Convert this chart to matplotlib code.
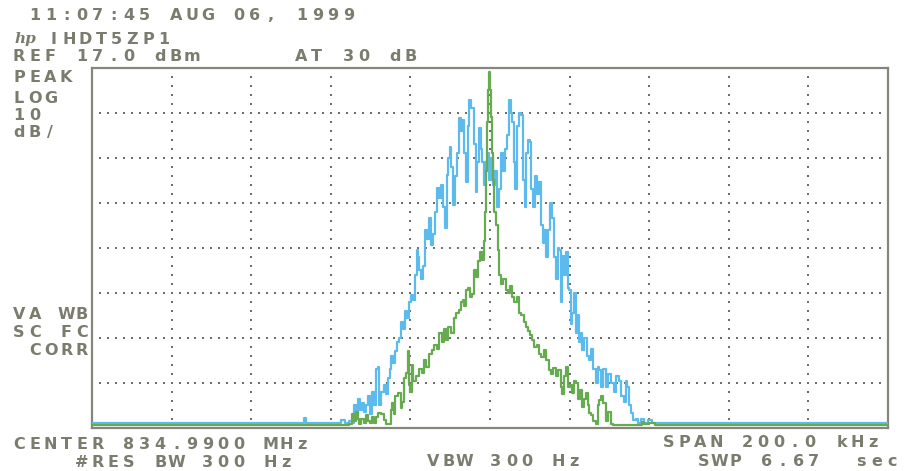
import matplotlib
matplotlib.use("Agg")
import matplotlib.pyplot as plt
import numpy as np

# spectrum trace, wide sweep (blue) - offset from center in kHz / level in dBm
blue_khz = [-100, -47, -46.5, -46, -38, -37, -36, -35, -34.5, -34,
            -33.5, -33, -32.5, -32, -31.5, -31, -30.5, -30, -29.5, -29,
            -28.5, -28, -27.6, -27, -26.5, -26, -25.5, -25, -24.5, -24,
            -23.5, -23, -22.5, -22, -21.5, -21, -20.5, -20, -19.5, -19,
            -18.5, -18.3, -18, -17.5, -17, -16.5, -16, -15.5, -15, -14.5,
            -14, -13.5, -13, -12.5, -12, -11.5, -11, -10.7, -10.2, -10,
            -9.5, -9, -8.5, -8, -7.5, -7, -6.8, -6.3, -5.8, -5.4,
            -5, -4.6, -4.3, -3.8, -3.3, -3, -2.5, -2.2, -1.8, -1.3,
            -1, -0.5, 0, 0.5, 1, 1.5, 2, 2.5, 3, 3.5,
            4, 4.5, 5, 5.4, 5.8, 6.2, 6.6, 7, 7.5, 8,
            8.5, 9, 9.3, 9.8, 10.1, 10.5, 11, 11.5, 12, 12.6,
            13, 13.5, 13.8, 14.3, 14.8, 15.3, 15.8, 16.3, 16.8, 17.3,
            17.6, 18, 18.3, 18.8, 19.3, 19.8, 20.1, 20.5, 20.9, 21.4,
            21.9, 22.3, 22.6, 23, 23.4, 24, 24.6, 25.1, 25.6, 26.2,
            26.9, 27.3, 27.6, 28.2, 28.8, 29.4, 30, 30.9, 31.5, 32,
            32.7, 33.3, 33.9, 34.3, 34.7, 35.2, 35.7, 36.3, 36.9, 37.5,
            38.4, 39, 40.2, 41, 100]
blue_dbm = [-62.0, -62.0, -60.8, -62.0, -62.0, -61.3, -61.8, -61.4, -61.8, -58,
            -60, -56.5, -59, -57.5, -59.5, -58, -56, -60, -55, -58,
            -50, -49.4, -58, -55, -53.5, -55.5, -52, -50, -47, -48.5,
            -46, -44, -43, -39.5, -41, -37, -38.5, -35, -33.5, -34.5,
            -29, -23.5, -25, -28, -30, -27, -19, -21, -16.3, -22.3,
            -20, -15, -9.7, -12, -9, -14, -18.6, -6.8, -3, -0.5,
            -5, -13.4, -7, -2, 5.9, 3, 5.5, -2, -8.3, 4,
            9.9, 8, 8.1, 0, -10.6, -4, 3.7, -1, -3.9, -9,
            -4, -2, -8, -3, -9, -6, -14, -10, -2, -6,
            -1, 2, 9.9, 7, 5, -4, -10, 4, 7, 6.6,
            -8, -14, -2, 1, 0.6, -10, -14, -7, -11, -8.3,
            -18, -22, -19, -25, -19, -13, -16.3, -25, -30, -23,
            -23.4, -35, -24.7, -29, -24, -32, -32.3, -40, -37.5, -33,
            -41.9, -38, -44, -42, -45.7, -43, -47, -47.9, -45.5, -50,
            -53, -49.5, -50.1, -54, -50, -53.9, -51, -53, -55, -51.5,
            -52.5, -56, -57.3, -52.5, -53.9, -58, -59.7, -61.3, -61.0, -61.8,
            -61.0, -61.8, -61.3, -61.9, -62.0]

# narrow sweep (green)
green_khz = [-100, -36, -35, -34.5, -34, -33.5, -33, -32.7, -32, -31.5,
             -31, -30.5, -30, -29.5, -29, -28.5, -27.6, -27, -26.5, -25.8,
             -25.1, -24.8, -24.4, -24, -23.5, -22.6, -22.2, -21.9, -21.4, -20.9,
             -20.5, -20.3, -19.8, -19.6, -19, -18.3, -17.5, -16.8, -16.3, -15.8,
             -15, -14.3, -13.7, -13, -12.5, -11.8, -11.3, -10.8, -10.2, -9.5,
             -8.8, -8.2, -7.5, -7, -6.8, -6.3, -5.8, -5.3, -4.8, -4.3,
             -3.8, -3.3, -2.8, -2.3, -1.8, -1.3, -1, -0.8, -0.6, -0.4,
             -0.2, 0, 0.2, 0.4, 0.6, 0.9, 1.3, 1.8, 2.2, 2.5,
             3, 3.5, 4.3, 4.8, 5.3, 5.8, 6.5, 7, 7.5, 8.2,
             8.7, 9.3, 9.8, 10.3, 10.8, 11.5, 12, 12.6, 13.2, 13.8,
             14.3, 15.1, 15.6, 16.2, 16.8, 17.6, 18, 18.3, 18.8, 19.3,
             19.8, 20.4, 20.9, 21.4, 21.9, 22.4, 22.9, 23.4, 23.9, 24.4,
             24.8, 25.1, 25.7, 26.2, 26.9, 27.3, 27.6, 28.2, 28.8, 29.4,
             30, 30.6, 31.2, 38, 38.5, 39, 41, 42, 100]
green_dbm = [-62.3, -62.3, -62.1, -60, -61.5, -59.5, -61, -62.1, -61, -62,
             -60.2, -61.5, -62, -60.5, -61.8, -60.5, -59.7, -60, -61.2, -62.1,
             -62.2, -59, -57.5, -60, -56, -55.2, -58.5, -57.3, -52, -50.7,
             -46, -53.5, -55, -49, -52.5, -51.5, -50, -50.8, -48, -49.4,
             -46.5, -45.7, -44.5, -45.5, -42, -43.8, -41, -43.4, -40.5, -41.8,
             -38.5, -37.5, -36.8, -35, -34.5, -36, -32.3, -31.8, -34, -33.2,
             -28, -29.4, -26, -24, -25.7, -21.5, -15, -6, 5, 12,
             16.1, 15.5, 12, 6, -2, -8, -15, -18, -23.5, -29,
             -31, -30, -32.3, -33, -31.5, -33.9, -35, -34, -37.5, -38,
             -39.5, -40.5, -41.5, -42.3, -43.4, -45, -44.5, -46.5, -47.2, -45.7,
             -48, -50.1, -51, -49.7, -51.5, -50.1, -53.9, -55.5, -51.5, -49.4,
             -54, -53.5, -55.2, -52.5, -53, -56.5, -54.5, -58.3, -56.5, -55.2,
             -58, -59.7, -60.2, -61.5, -62.2, -58, -56.8, -56, -57.5, -61.5,
             -59.5, -62.2, -62.3, -62.3, -61.6, -62.2, -61.9, -62.3, -62.3]

ref_level = 17.0     # dBm, top of screen
db_per_div = 10
span = 200.0         # kHz

W, H = 908, 471
TXT = "#7b7b6e"
GRID = "#6e6e68"
PITCH = 15.7

fig = plt.figure(figsize=(W / 100, H / 100), dpi=100)
ax = fig.add_axes([92 / W, 43 / H, 796 / W, 360 / H])

bottom = ref_level - 8 * db_per_div
ax.set_xlim(-span / 2, span / 2)
ax.set_ylim(bottom, ref_level)

# dotted graticule: 10 x 8 divisions
for y in np.arange(bottom + db_per_div, ref_level, db_per_div):
    xs = np.arange(-span / 2 + 2, span / 2, 2)
    ax.plot(xs, np.full_like(xs, y), ls="none", marker="s", ms=1.6,
            color=GRID, mew=0, zorder=1)
for x in np.arange(-span / 2 + 20, span / 2, 20):
    ys = np.arange(bottom + 2, ref_level, 2)
    ax.plot(np.full_like(ys, x), ys, ls="none", marker="s", ms=1.6,
            color=GRID, mew=0, zorder=1)

# stepped traces like the analyzer display
ax.plot(blue_khz, blue_dbm, color="#5cbaec", lw=1.6, zorder=3,
        drawstyle="steps-mid")
ax.plot(green_khz, green_dbm, color="#66ab4f", lw=1.6, zorder=4,
        drawstyle="steps-mid")

ax.set_xticks([])
ax.set_yticks([])
for s in ax.spines.values():
    s.set_color("#85857c")
    s.set_linewidth(1.6)


def put(text, x, y):
    # fixed-pitch screen lettering, y is the vertical centre of the caps
    for i, ch in enumerate(text):
        if ch == " ":
            continue
        fig.text((x + i * PITCH + 6) / W, 1 - (y + 6) / H, ch,
                 ha="center", va="baseline", color=TXT,
                 fontsize=11.5, fontweight="bold", family="DejaVu Sans")


put("11:07:45 AUG 06, 1999", 28.7, 14)
fig.text(14 / W, 1 - 43 / H, "hp", color=TXT, fontsize=11,
         fontstyle="italic", fontweight="bold", family="DejaVu Serif")
put("IHDT5ZP1", 48, 38)
put("REF 17.0 dBm", 13, 55)
put("AT 30 dB", 295, 55)
put("PEAK", 13, 76)
put("LOG", 13, 97)
put("10", 13, 114)
put("dB/", 13, 131)
put("VA WB", 13, 313)
put("SC FC", 13, 331)
put("CORR", 29, 349)
put("CENTER 834.9900 MHz", 13, 443)
put("#RES BW 300 Hz", 76, 461)
put("VBW 300 Hz", 427, 460)
put("SPAN 200.0 kHz", 663, 441)
put("SWP 6.67", 698, 460)
put("sec", 855, 460)

fig.savefig("out.png", dpi=100, facecolor="white")
